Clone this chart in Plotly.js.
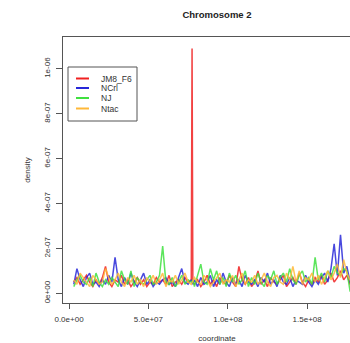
<!DOCTYPE html>
<html>
<head>
<meta charset="utf-8">
<script src="https://cdn.plot.ly/plotly-3.0.1.min.js"></script>
<style>
html,body{margin:0;padding:0;overflow:hidden;background:#fff;width:350px;height:343px;}
#chart{width:400px;height:343px;}
</style>
</head>
<body>
<div id="chart"></div>
<script>
// Bin positions along chromosome 2 (Mb)
const coordMb = [3,5,7,9,11,13,15,17,19,21,23,25,27,29,31,33,35,37,39,41,43,45,47,49,51,53,55,57,59,61,63,65,67,69,71,73,75,77,77.5,78,
  79,81,83,85,87,89,91,93,95,97,99,101,103,105,107,109,111,113,115,117,119,121,123,125,127,129,131,133,135,137,139,141,143,145,147,149,151,153,155,157,159,161,163,165,167,169,171,173,175,177,179,181];
// Density values, in units of 1e-8
const DENSITY_UNIT = 1e-8;
const JM8_F6 = [5,7,4,6,8,5,3,6,4,7,12,5,3,6,5,8,4,6,3,5,7,4,6,3,5,4,7,5,6,4,8,3,5,6,4,7,5,6,109,5,
  4,6,3,5,8,4,6,3,7,5,4,8,5,3,12,6,4,7,3,5,10,4,6,3,7,5,4,6,8,3,5,7,4,9,5,3,6,4,7,5,8,4,6,9,5,7,10,6,8,4,3,2];
const NCrl = [4,11,6,3,7,9,4,5,3,6,4,8,5,16,6,3,7,4,9,5,3,6,9,4,6,3,5,4,6,7,4,5,3,7,11,5,4,6,5,4,
  6,3,7,4,5,8,3,6,4,9,5,3,7,4,6,3,8,5,4,6,3,7,5,9,4,6,3,8,5,4,7,3,6,5,4,8,5,3,6,4,7,9,5,11,22,8,26,9,12,5,3,2];
const NJ = [3,6,8,5,4,7,3,9,5,3,6,4,7,5,3,10,6,4,10,3,7,5,4,6,8,4,5,8,21,5,4,7,3,5,8,4,6,5,5,6,
  3,8,13,5,4,11,6,10,4,7,3,9,5,8,4,6,10,3,7,4,9,5,3,8,6,10,4,7,9,5,11,6,4,8,10,5,7,4,16,6,9,5,10,7,12,9,8,11,10,1,1,1];
const Ntac = [6,4,9,7,5,3,8,6,4,5,11,7,4,6,9,5,3,7,5,8,4,6,3,7,5,8,4,6,9,3,6,5,8,4,6,9,5,4,5,6,
  7,5,4,8,6,3,5,7,9,4,6,5,8,3,6,9,4,6,5,8,4,6,9,5,3,7,8,5,4,9,6,12,5,10,4,7,6,9,5,8,4,7,10,6,9,13,7,15,9,6,3,2];

const seriesNames = ["JM8_F6","NCrl","NJ","Ntac"];
const seriesData = [JM8_F6, NCrl, NJ, Ntac];
const seriesColors = ["#f02020","#2828d8","#40e040","#ffb838"];

const xTickVals = [0, 5e7, 1e8, 1.5e8];
const xTickText = ["0.0e+00","5.0e+07","1.0e+08","1.5e+08"];
const yTickVals = [0, 2e-7, 4e-7, 6e-7, 8e-7, 1e-6];
const yTickText = ["0e+00","2e-07","4e-07","6e-07","8e-07","1e-06"];

const xs = coordMb.map(v => v * 1e6);
const traces = seriesData.map((d, i) => ({
  type: "scatter", mode: "lines", name: seriesNames[i],
  x: xs, y: d.map(v => v * DENSITY_UNIT),
  line: {color: seriesColors[i], width: 1.5}, opacity: 0.85,
  showlegend: false, hoverinfo: "skip"
}));

// Plot area in pixels: x 63..371, y 37..303
const L = 63, R = 371, T = 37, B = 303;
const px = v => (v - L) / (R - L);
const py = v => 1 - (v - T) / (B - T);

const shapes = [{type: "rect", xref: "paper", yref: "paper", x0: px(68), x1: px(137), y0: py(121), y1: py(67),
  line: {color: "#555", width: 1}, fillcolor: "rgba(255,255,255,0)"}];
const annotations = [];
const rowY = [78.5, 88, 98, 108.5];
seriesNames.forEach((n, i) => {
  shapes.push({type: "line", xref: "paper", yref: "paper", x0: px(76), x1: px(89), y0: py(rowY[i]), y1: py(rowY[i]),
    line: {color: seriesColors[i], width: 2}});
  annotations.push({xref: "paper", yref: "paper", x: px(99), y: py(rowY[i]), xanchor: "left", yanchor: "middle",
    text: n, showarrow: false, font: {family: "Liberation Sans, Arial, sans-serif", size: 8.5, color: "#333"}});
});

const axisFont = {family: "Liberation Sans, Arial, sans-serif", size: 8, color: "#333"};
const layout = {
  width: 400, height: 343,
  margin: {l: L, r: 400 - R, t: T, b: 343 - B},
  paper_bgcolor: "#fff", plot_bgcolor: "#fff",
  title: {text: "<b>Chromosome 2</b>", x: px(217), xref: "paper", y: 1 - 15/343, yref: "container",
    xanchor: "center", yanchor: "middle", font: {family: "Liberation Sans, Arial, sans-serif", size: 9.5, color: "#222"}},
  xaxis: {range: [-3.78e6, 1.902e8], showgrid: false, zeroline: false, showline: true, mirror: true,
    linecolor: "#555", linewidth: 1, ticks: "outside", ticklen: 5, tickcolor: "#555",
    tickvals: xTickVals, ticktext: xTickText, tickfont: axisFont, ticklabelstandoff: 3,
    title: {text: "coordinate", font: axisFont, standoff: 12}},
  yaxis: {range: [-0.432e-7, 1.1416e-6], showgrid: false, zeroline: false, showline: true, mirror: true,
    linecolor: "#555", linewidth: 1, ticks: "outside", ticklen: 6, tickcolor: "#555",
    tickvals: yTickVals, ticktext: yTickText, tickangle: -90, tickfont: axisFont, ticklabelstandoff: 3,
    title: {text: "density", font: axisFont, standoff: 10}},
  shapes: shapes, annotations: annotations, showlegend: false
};
Plotly.newPlot("chart", traces, layout, {staticPlot: true});
</script>
</body>
</html>
